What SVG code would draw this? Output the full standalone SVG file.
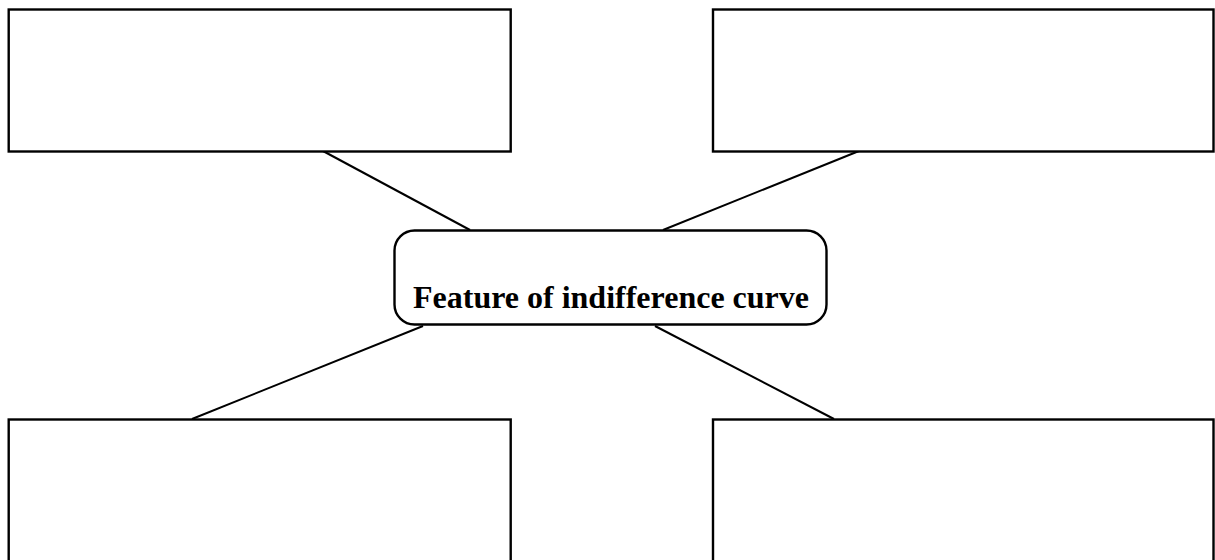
<svg xmlns="http://www.w3.org/2000/svg" width="1215" height="560" viewBox="0 0 1215 560">
<style>
.box{fill:#fff;stroke:#000;stroke-width:2.4}
.conn{stroke:#000;stroke-width:2;fill:none}
.lbl{font-family:"Liberation Serif","Times New Roman",serif;font-weight:bold;font-size:32px;fill:#000}
</style>
<rect width="1215" height="560" fill="#fff"/>
<g id="connectors">
<line class="conn" x1="323" y1="151" x2="470" y2="230"/>
<line class="conn" x1="859" y1="151" x2="663" y2="230"/>
<line class="conn" x1="423" y1="326" x2="192" y2="419"/>
<line class="conn" x1="655" y1="326" x2="834" y2="419"/>
</g>
<g id="box-top-left"><rect class="box" x="8.7" y="9.5" width="502" height="142"/></g>
<g id="box-top-right"><rect class="box" x="713" y="9.5" width="500.5" height="142"/></g>
<g id="box-bottom-left"><rect class="box" x="8.7" y="419.5" width="502" height="160"/></g>
<g id="box-bottom-right"><rect class="box" x="713" y="419.5" width="500.5" height="160"/></g>
<g id="center">
<rect class="box" x="394.5" y="230.5" width="432" height="94" rx="20" ry="20"/>
<text class="lbl" x="611" y="308" text-anchor="middle">Feature of indifference curve</text>
</g>
</svg>
